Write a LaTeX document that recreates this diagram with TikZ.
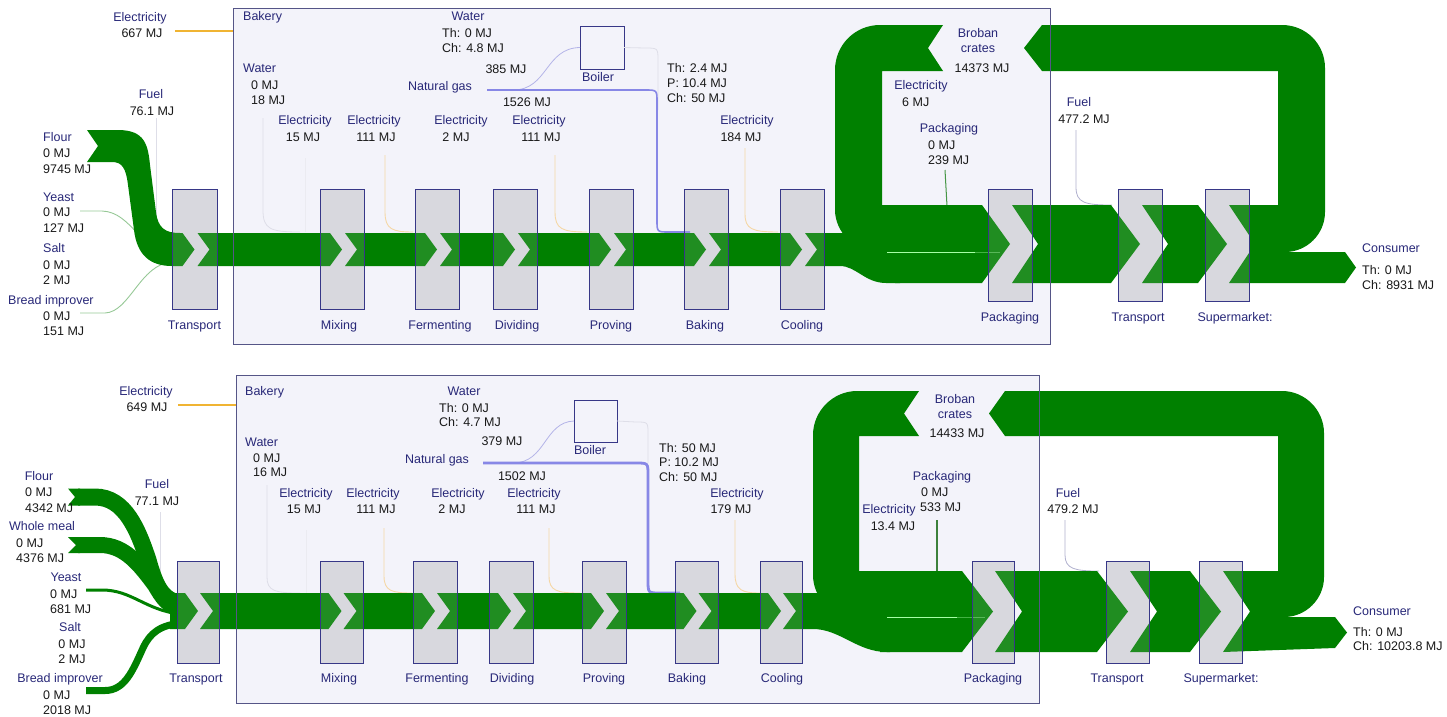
\documentclass[tikz,border=0pt]{standalone}
\usepackage{fontspec}
\setmainfont{Liberation Sans}
\newcommand\labfont{\fontsize{12.5}{15}\selectfont}
\definecolor{sgreen}{RGB}{0,128,0}
\definecolor{navy}{RGB}{40,40,120}
\definecolor{valblack}{RGB}{25,25,25}
\definecolor{boxgray}{RGB}{216,216,222}
\definecolor{boxline}{RGB}{55,55,135}
\definecolor{bakfill}{RGB}{243,243,250}
\definecolor{bakline}{RGB}{85,85,135}
\definecolor{elec}{RGB}{240,180,50}
\definecolor{elecfaint}{RGB}{245,215,165}
\definecolor{gas}{RGB}{135,135,230}
\definecolor{gasthin}{RGB}{180,180,232}
\definecolor{faint}{RGB}{222,222,232}
\definecolor{pkgline}{RGB}{70,150,70}
\definecolor{fuelline}{RGB}{175,175,205}
\definecolor{ingline}{RGB}{150,200,150}
\begin{document}
\begin{tikzpicture}[x=1pt,y=-1pt,
  lab/.style={text=navy, font=\labfont, inner sep=0pt, anchor=base, yshift=-4.5pt},
  labw/.style={lab, anchor=base west},
  val/.style={lab, text=valblack},
  valw/.style={val, anchor=base west},
  pbox/.style={fill=boxgray, inner sep=0pt, outer sep=0pt},
  boilerbox/.style={draw=boxline, line width=0.9pt, fill=bakfill, inner sep=0pt, outer sep=0pt},
  flow/.style={fill=sgreen},
  faintline/.style={draw=faint, line width=0.8pt},
  elecline/.style={draw=elecfaint, line width=0.9pt},
  mainelec/.style={draw=elec, line width=2.2pt},
  gasline/.style={draw=gas},
  gasbranch/.style={draw=gasthin, line width=0.8pt},
  seam/.style={draw=green!35!white, line width=0.8pt},
  overlay box/.style={draw=boxline, line width=0.9pt, fill=boxgray, fill opacity=0.15}]
\useasboundingbox (0,0) rectangle (1447,716);

% ---------- bakery containers ----------
\fill[bakfill] (233,8) rectangle (1050,344);
\fill[bakfill] (236,375) rectangle (1039,703);

% ---------- process boxes (fill) : first chain ----------
\node[pbox, minimum width=45pt, minimum height=120pt] (trA)   at (194.5,249) {};
\node[pbox, minimum width=44pt, minimum height=120pt] (mixA)  at (342,249) {};
\node[pbox, minimum width=44pt, minimum height=120pt] (fermA) at (437,249) {};
\node[pbox, minimum width=44pt, minimum height=120pt] (divA)  at (515,249) {};
\node[pbox, minimum width=44pt, minimum height=120pt] (provA) at (611,249) {};
\node[pbox, minimum width=44pt, minimum height=120pt] (bakeA) at (706,249) {};
\node[pbox, minimum width=44pt, minimum height=120pt] (coolA) at (802,249) {};
\node[pbox, minimum width=44pt, minimum height=112pt] (packA) at (1010,245) {};
\node[pbox, minimum width=44pt, minimum height=112pt] (trtwoA) at (1140,245) {};
\node[pbox, minimum width=44pt, minimum height=112pt] (supA)  at (1227,245) {};

% ---------- process boxes (fill) : second chain ----------
\node[pbox, minimum width=42pt, minimum height=102pt] (trB)   at (198,612) {};
\node[pbox, minimum width=43pt, minimum height=102pt] (mixB)  at (341.5,612) {};
\node[pbox, minimum width=44pt, minimum height=102pt] (fermB) at (435,612) {};
\node[pbox, minimum width=44pt, minimum height=102pt] (divB)  at (511,612) {};
\node[pbox, minimum width=44pt, minimum height=102pt] (provB) at (604,612) {};
\node[pbox, minimum width=43pt, minimum height=102pt] (bakeB) at (696.5,612) {};
\node[pbox, minimum width=42pt, minimum height=102pt] (coolB) at (781,612) {};
\node[pbox, minimum width=42pt, minimum height=102pt] (packB) at (993,612) {};
\node[pbox, minimum width=43pt, minimum height=102pt] (trtwoB) at (1127.5,612) {};
\node[pbox, minimum width=43pt, minimum height=102pt] (supB)  at (1220.5,612) {};

% ---------- boilers ----------
\node[boilerbox, minimum width=44pt, minimum height=43pt] (boilA) at (602,47.5) {};
\node[boilerbox, minimum width=43pt, minimum height=42pt] (boilB) at (595.5,421) {};

% ---------- thin energy lines : first chain ----------
\draw[mainelec] (175,31) -- (233,31);
\draw[faintline] (156,118) -- (156,232);
\draw[draw=ingline, line width=0.9pt] (80,211) -- (102,211) .. controls (132,212) and (140,252) .. (172,253);
\draw[draw=ingline, line width=0.9pt] (80,313) -- (105,313) .. controls (130,312) and (140,264) .. (172,262);
\draw[faintline] (263,118) -- (263,210) .. controls (263,229) and (270,232) .. (300,232);
\draw[draw=faint!60!white, line width=0.8pt] (305,158) -- (305,232);
\draw[elecline] (385,155) -- (385,212) .. controls (385,229) and (392,232) .. (413,232);
\draw[elecline] (555,155) -- (555,212) .. controls (555,229) and (562,232) .. (587,232);
\draw[elecline] (745,148) -- (745,214) .. controls (745,229) and (752,232) .. (778,232);
\draw[gasbranch] (513,90) .. controls (548,90) and (545,48) .. (boilA.west);
\draw[faintline] (boilA.east) -- (645,48) .. controls (658,48) .. (658,61) -- (658,110);
\draw[gasline, line width=1.6pt] (487,90) -- (645,90) .. controls (657,90) .. (657,102) -- (657,220) .. controls (657,232) .. (669,232) -- (690,232);
\draw[draw=pkgline, line width=1pt] (945,170) -- (947,206);
\draw[draw=fuelline, line width=0.8pt] (1076,130) -- (1076,187) .. controls (1076,203) and (1085,205) .. (1112,205);

% ---------- thin energy lines : second chain ----------
\draw[mainelec] (178,405) -- (236,405);
\draw[faintline] (160,512) -- (160,590);
\draw[faintline] (267,485) -- (267,577) .. controls (267,591) and (275,593) .. (300,593);
\draw[draw=faint!60!white, line width=0.8pt] (306,530) -- (306,593);
\draw[elecline] (384,528) -- (384,576) .. controls (384,591) and (392,593) .. (412,593);
\draw[elecline] (549,528) -- (549,576) .. controls (549,591) and (557,593) .. (580,593);
\draw[elecline] (735,520) -- (735,574) .. controls (735,590) and (742,593) .. (760,593);
\draw[gasbranch] (513,463) .. controls (546,463) and (544,422) .. (boilB.west);
\draw[faintline] (boilB.east) -- (636,422) .. controls (648,422) .. (648,434) -- (648,463);
\draw[gasline, line width=2.8pt] (483,463) -- (636,463) .. controls (648,463) .. (648,475) -- (648,580) .. controls (648,593) .. (660,593) -- (680,593);
\draw[draw=pkgline!85!black, line width=1.6pt] (937,520) -- (937,572);
\draw[draw=fuelline, line width=0.8pt] (1065,520) -- (1065,555) .. controls (1065,569) and (1075,571) .. (1099,571);

% ---------- green flows : first chain ----------
\fill[flow] (87,130) -- (118,130) .. controls (145,130) and (148,145) .. (150,165)
  -- (156,212) .. controls (158,228) and (165,233) .. (180,233) -- (182.5,233)
  -- (194.5,249.5) -- (182.5,266) -- (172,266) .. controls (150,266) and (137,255) .. (134,230)
  -- (128,185) .. controls (126,168) and (122,162) .. (112,162) -- (87,162) -- (98,146) -- cycle;
\foreach \a/\b in {194.5/342,342/437,437/515,515/611,611/706,706/802}
  \fill[flow] (\a+3,233) -- (\a+15,249.5) -- (\a+3,266) -- (\b-12,266) -- (\b,249.5) -- (\b-12,233) -- cycle;
% product leaving cooling
\fill[flow] (805,233) -- (817,249.5) -- (805,266) -- (840,266) .. controls (856,266) and (865,283) .. (886,283)
  -- (900,283) -- (900,252) -- (875,252) -- (844,233) -- cycle;
% crate return loop, left part
\fill[flow] (943,25) -- (928,48) -- (943,71) -- (882,71) -- (882,205) -- (900,205) -- (900,252)
  -- (877,252) .. controls (855,252) and (835,232) .. (835,210) -- (835,70)
  .. controls (835,45) and (855,25) .. (880,25) -- cycle;
% into packaging, transport and supermarket
\fill[flow] (895,205) -- (982,205) -- (1010,244) -- (982,283) -- (895,283) -- cycle;
\fill[flow] (1012,205) -- (1038,244) -- (1012,283) -- (1111,283) -- (1140,244) -- (1111,205) -- cycle;
\fill[flow] (1142,205) -- (1168,244) -- (1142,283) -- (1198,283) -- (1227,244) -- (1198,205) -- cycle;
% to consumer
\fill[flow] (1229,205) -- (1255,244) -- (1229,283) -- (1345,283) -- (1356,267.5) -- (1345,252) -- (1262,252) -- (1262,205) -- cycle;
% crate return loop, right part
\fill[flow] (1250,205) -- (1278,205) -- (1278,71) -- (1042,71) -- (1024,48) -- (1042,25)
  -- (1282,25) .. controls (1306,25) and (1325,44) .. (1325,68) -- (1325,212)
  .. controls (1325,234) and (1307,252) .. (1285,252) -- (1250,252) -- cycle;
\draw[seam] (887,252) -- (975,252);
\draw[seam, opacity=0.4] (975,252) -- (1000,252);

% ---------- green flows : second chain ----------
\fill[flow] (68,488.5) -- (75,497) -- (68,505.5) -- (80,505.5) -- (80,488.5) -- cycle;
\draw[draw=sgreen, line width=17pt] (78,497) -- (95,497) .. controls (125,497) and (138,530) .. (148,560) .. controls (155,585) and (162,602) .. (182,603);
\fill[flow] (68,537) -- (76,545) -- (68,553) -- (80,553) -- (80,537) -- cycle;
\draw[draw=sgreen, line width=16pt] (78,545) -- (100,545) .. controls (125,545) and (140,565) .. (155,585) .. controls (162,597) and (168,607) .. (182,609);
\draw[draw=sgreen, line width=3pt] (86,590) -- (102,590) .. controls (132,590) and (145,610) .. (180,614);
\draw[draw=sgreen, line width=7pt] (86,690.5) -- (105,690.5) .. controls (125,690.5) and (133,670) .. (143,648) .. controls (150,633) and (160,625) .. (182,623);
\fill[flow] (170,593) -- (185,593) -- (198,611) -- (185,629) -- (170,629) -- cycle;
\foreach \a/\b in {198/341.5,341.5/435,435/511,511/604,604/696.5,696.5/781}
  \fill[flow] (\a+2,593) -- (\a+15,611) -- (\a+2,629) -- (\b-13,629) -- (\b,611) -- (\b-13,593) -- cycle;
% product leaving cooling
\fill[flow] (783,593) -- (796,611) -- (783,629) -- (813,629) .. controls (840,629) and (857,652) .. (887,652)
  -- (890,652) -- (890,617) -- (852,617) -- (819,593) -- cycle;
% crate return loop, left part
\fill[flow] (919,391) -- (904,413.5) -- (919,436) -- (859,436) -- (859,571) -- (885,571) -- (885,617)
  -- (855,617) .. controls (832,617) and (813,598) .. (813,575) -- (813,435)
  .. controls (813,411) and (833,391) .. (857,391) -- cycle;
% into packaging, transport and supermarket
\fill[flow] (880,571) -- (962,571) -- (993,611.5) -- (962,652) -- (880,652) -- cycle;
\fill[flow] (995,571) -- (1022,611.5) -- (995,652) -- (1097,652) -- (1128,611.5) -- (1097,571) -- cycle;
\fill[flow] (1130,571) -- (1157,611.5) -- (1130,652) -- (1190,652) -- (1221,611.5) -- (1190,571) -- cycle;
% to consumer
\fill[flow] (1223,571) -- (1250,611.5) -- (1223,652) -- (1335,648) -- (1347,632.5) -- (1335,617) -- (1262,617) -- (1262,571) -- cycle;
% crate return loop, right part
\fill[flow] (1250,571) -- (1278,571) -- (1278,436) -- (1005,436) -- (989,413.5) -- (1005,391)
  -- (1282,391) .. controls (1305,391) and (1324,410) .. (1324,433) -- (1324,577)
  .. controls (1324,599) and (1306,617) .. (1284,617) -- (1250,617) -- cycle;
\draw[seam] (887,617) -- (957,617);
\draw[seam, opacity=0.4] (957,617) -- (985,617);

% ---------- process boxes (tinted overlay and outline) ----------
\foreach \n in {trA,mixA,fermA,divA,provA,bakeA,coolA,packA,trtwoA,supA,
                trB,mixB,fermB,divB,provB,bakeB,coolB,packB,trtwoB,supB}
  \draw[overlay box] (\n.south west) rectangle (\n.north east);

% ---------- bakery outlines ----------
\draw[bakline, line width=0.9pt] (233,8) rectangle (1050,344);
\draw[bakline, line width=0.9pt] (236,375) rectangle (1039,703);

% ---------- labels : first chain ----------
\node[lab] (a1) at (140,17) {Electricity};
\node[val] (a2) at (142,33) {667 MJ};
\node[labw] (a3) at (243,16) {Bakery};
\node[labw] (a4) at (243,68) {Water};
\node[valw] (a5) at (251,85) {0 MJ};
\node[valw] (a6) at (251,100) {18 MJ};
\node[lab] (a7) at (151,94) {Fuel};
\node[val] (a8) at (152,111) {76.1 MJ};
\node[labw] (a9) at (43,137) {Flour};
\node[valw] (a10) at (43,153) {0 MJ};
\node[valw] (a11) at (43,169) {9745 MJ};
\node[labw] (a12) at (43,197) {Yeast};
\node[valw] (a13) at (43,212) {0 MJ};
\node[valw] (a14) at (43,228) {127 MJ};
\node[labw] (a15) at (43,248) {Salt};
\node[valw] (a16) at (43,265) {0 MJ};
\node[valw] (a17) at (43,280) {2 MJ};
\node[labw] (a18) at (8,300) {Bread improver};
\node[valw] (a19) at (43,316) {0 MJ};
\node[valw] (a20) at (43,331) {151 MJ};
\node[lab] (a21) at (194.5,325) {Transport};
\node[lab] (a22) at (468,16) {Water};
\node[valw] (a23) at (442,33) {Th: 0 MJ};
\node[valw] (a24) at (442,48) {Ch: 4.8 MJ};
\node[val] (a25) at (506,69) {385 MJ};
\node[lab] (a26) at (440,86) {Natural gas};
\node[val] (a27) at (527,102) {1526 MJ};
\node[lab] (a28) at (598,77) {Boiler};
\node[valw] (a29) at (667,68) {Th: 2.4 MJ};
\node[valw] (a30) at (667,83) {P: 10.4 MJ};
\node[valw] (a31) at (667,98) {Ch: 50 MJ};
\node[lab] (a32) at (305,120) {Electricity};
\node[val] (a33) at (303,137) {15 MJ};
\node[lab] (a34) at (374,120) {Electricity};
\node[val] (a35) at (376,137) {111 MJ};
\node[lab] (a36) at (461,120) {Electricity};
\node[val] (a37) at (456,137) {2 MJ};
\node[lab] (a38) at (539,120) {Electricity};
\node[val] (a39) at (541,137) {111 MJ};
\node[lab] (a40) at (747,120) {Electricity};
\node[val] (a41) at (741,137) {184 MJ};
\node[lab] (a42) at (339,325) {Mixing};
\node[lab] (a43) at (440,325) {Fermenting};
\node[lab] (a44) at (517,325) {Dividing};
\node[lab] (a45) at (611,325) {Proving};
\node[lab] (a46) at (705,325) {Baking};
\node[lab] (a47) at (802,325) {Cooling};
\node[lab] (a48) at (978,33) {Broban};
\node[lab] (a49) at (978,48) {crates};
\node[val] (a50) at (982,68) {14373 MJ};
\node[lab] (a51) at (921,85) {Electricity};
\node[valw] (a52) at (902,102) {6 MJ};
\node[lab] (a53) at (949,128) {Packaging};
\node[valw] (a54) at (928,145) {0 MJ};
\node[valw] (a55) at (928,160) {239 MJ};
\node[lab] (a56) at (1010,317) {Packaging};
\node[lab] (a57) at (1138,317) {Transport};
\node[lab] (a58) at (1235,317) {Supermarket:};
\node[lab] (a59) at (1079,102) {Fuel};
\node[val] (a60) at (1084,119) {477.2 MJ};
\node[labw] (a61) at (1362,248) {Consumer};
\node[valw] (a62) at (1362,270) {Th: 0 MJ};
\node[valw] (a63) at (1362,285) {Ch: 8931 MJ};

% ---------- labels : second chain ----------
\node[lab] (b1) at (146,391) {Electricity};
\node[val] (b2) at (147,407) {649 MJ};
\node[labw] (b3) at (245,391) {Bakery};
\node[labw] (b4) at (245,442) {Water};
\node[valw] (b5) at (253,458) {0 MJ};
\node[valw] (b6) at (253,472) {16 MJ};
\node[lab] (b7) at (39,476) {Flour};
\node[valw] (b8) at (25,492) {0 MJ};
\node[valw] (b9) at (25,508) {4342 MJ};
\node[lab] (b10) at (42,526) {Whole meal};
\node[valw] (b11) at (16,543) {0 MJ};
\node[valw] (b12) at (16,558) {4376 MJ};
\node[lab] (b13) at (66,577) {Yeast};
\node[valw] (b14) at (50,594) {0 MJ};
\node[valw] (b15) at (50,609) {681 MJ};
\node[lab] (b16) at (70,627) {Salt};
\node[val] (b17) at (72,644) {0 MJ};
\node[val] (b18) at (72,659) {2 MJ};
\node[lab] (b19) at (60,678) {Bread improver};
\node[valw] (b20) at (43,695) {0 MJ};
\node[valw] (b21) at (43,710) {2018 MJ};
\node[lab] (b22) at (157,484) {Fuel};
\node[val] (b23) at (157,501) {77.1 MJ};
\node[lab] (b24) at (196,678) {Transport};
\node[lab] (b25) at (464,391) {Water};
\node[valw] (b26) at (439,408) {Th: 0 MJ};
\node[valw] (b27) at (439,422) {Ch: 4.7 MJ};
\node[val] (b28) at (502,441) {379 MJ};
\node[lab] (b29) at (437,459) {Natural gas};
\node[val] (b30) at (522,476) {1502 MJ};
\node[lab] (b31) at (590,450) {Boiler};
\node[valw] (b32) at (659,448) {Th: 50 MJ};
\node[valw] (b33) at (659,462) {P: 10.2 MJ};
\node[valw] (b34) at (659,477) {Ch: 50 MJ};
\node[lab] (b35) at (306,493) {Electricity};
\node[val] (b36) at (304,509) {15 MJ};
\node[lab] (b37) at (373,493) {Electricity};
\node[val] (b38) at (376,509) {111 MJ};
\node[lab] (b39) at (458,493) {Electricity};
\node[val] (b40) at (452,509) {2 MJ};
\node[lab] (b41) at (534,493) {Electricity};
\node[val] (b42) at (536,509) {111 MJ};
\node[lab] (b43) at (737,493) {Electricity};
\node[val] (b44) at (731,509) {179 MJ};
\node[lab] (b45) at (339,678) {Mixing};
\node[lab] (b46) at (437,678) {Fermenting};
\node[lab] (b47) at (512,678) {Dividing};
\node[lab] (b48) at (604,678) {Proving};
\node[lab] (b49) at (687,678) {Baking};
\node[lab] (b50) at (782,678) {Cooling};
\node[lab] (b51) at (955,399) {Broban};
\node[lab] (b52) at (955,414) {crates};
\node[val] (b53) at (957,433) {14433 MJ};
\node[lab] (b54) at (942,476) {Packaging};
\node[valw] (b55) at (921,492) {0 MJ};
\node[valw] (b56) at (920,507) {533 MJ};
\node[lab] (b57) at (889,509) {Electricity};
\node[val] (b58) at (893,526) {13.4 MJ};
\node[lab] (b59) at (993,678) {Packaging};
\node[lab] (b60) at (1117,678) {Transport};
\node[lab] (b61) at (1221,678) {Supermarket:};
\node[lab] (b62) at (1068,493) {Fuel};
\node[val] (b63) at (1073,509) {479.2 MJ};
\node[labw] (b64) at (1353,611) {Consumer};
\node[valw] (b65) at (1353,632) {Th: 0 MJ};
\node[valw] (b66) at (1353,646) {Ch: 10203.8 MJ};
\end{tikzpicture}
\end{document}
